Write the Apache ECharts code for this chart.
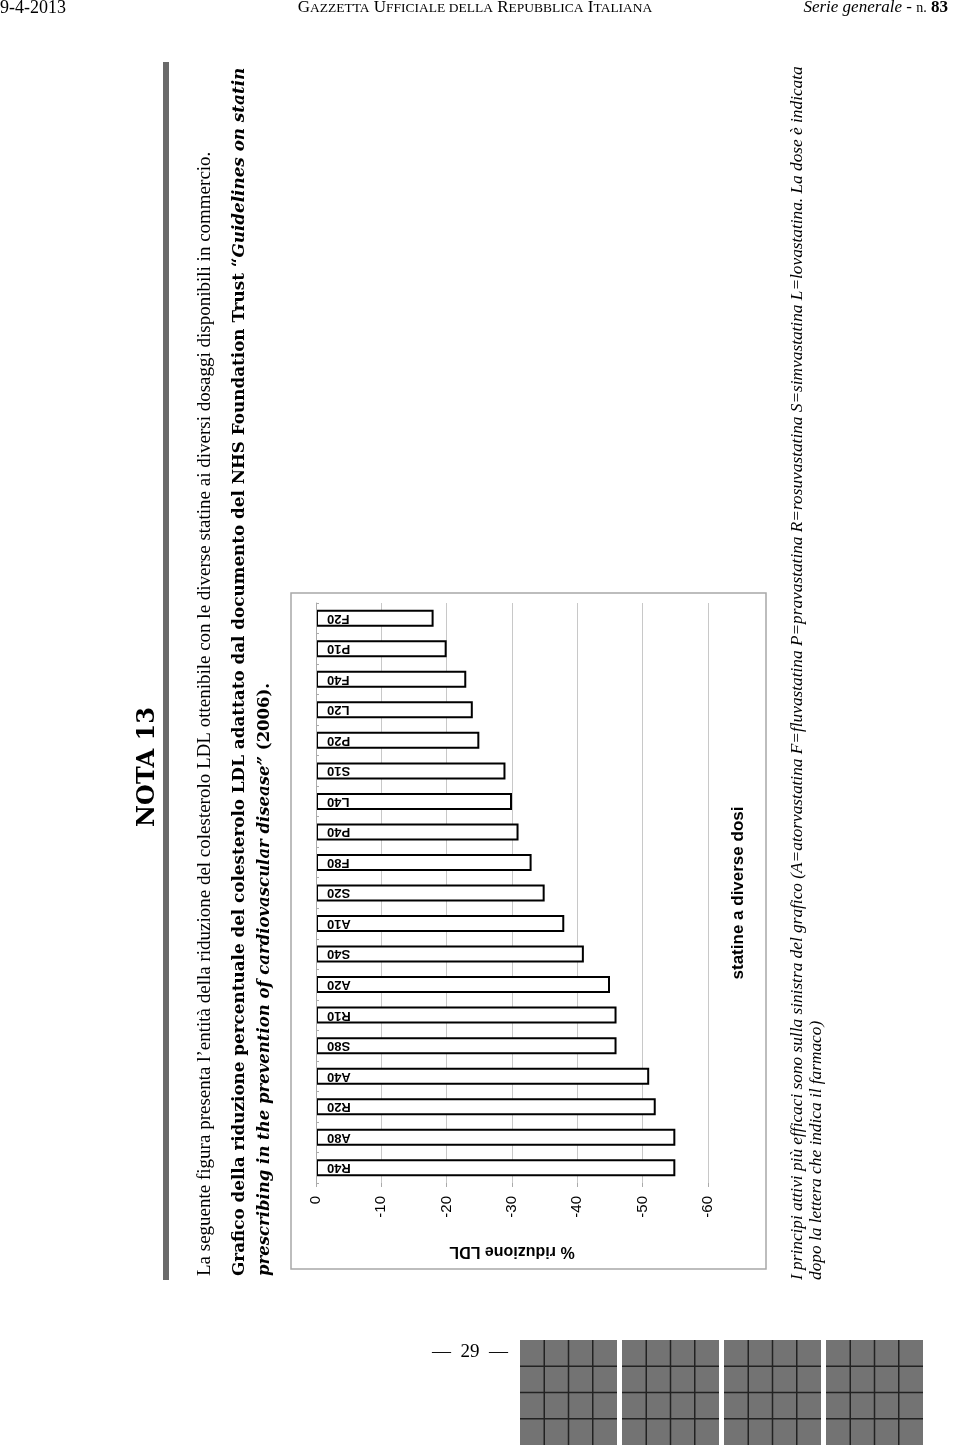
<!DOCTYPE html>
<html>
<head>
<meta charset="utf-8">
<script src="https://cdn.jsdelivr.net/npm/echarts@6/dist/echarts.min.js"></script>
<style>
html,body{margin:0;padding:0;background:#fff;}
#chart{width:960px;height:1445px;}
</style>
</head>
<body>
<div id="chart"></div>
<script>
// Categories (statin + dose), from bottom to top of the plotted axis
const categories = ['R40','A80','R20','A40','S80','R10','A20','S40','A10','S20','F80','P40','L40','S10','P20','L20','F40','P10','F20'];
// % LDL reduction
const ldlReduction = [-55,-55,-52,-51,-46,-46,-45,-41,-38,-35,-33,-31,-30,-29,-25,-24,-23,-20,-18];
// Value axis ticks
const valueMin = -60;
const valueMax = 0;
const valueStep = 10;

const valueAxisName = '% riduzione LDL';
const categoryAxisName = 'statine a diverse dosi';

const chart = echarts.init(document.getElementById('chart'), null, {renderer: 'canvas'});

const SANS = 'Liberation Sans, Arial, sans-serif';
const SERIF = 'Liberation Serif, Times New Roman, serif';
const WSERIF = 'DejaVu Serif, serif';
const R90 = Math.PI / 2;

const noise = [];
[520, 622, 724, 826].forEach(function (x0) {
  const w = 97, y0 = 1340, h = 105;
  noise.push({type: 'rect', shape: {x: x0, y: y0, width: w, height: h}, style: {fill: '#737373'}});
  for (let i = 1; i < 4; i++) {
    noise.push({type: 'line', shape: {x1: x0 + w * i / 4, y1: y0, x2: x0 + w * i / 4, y2: y0 + h}, style: {stroke: '#222', lineWidth: 1.5}});
    noise.push({type: 'line', shape: {x1: x0, y1: y0 + h * i / 4, x2: x0 + w, y2: y0 + h * i / 4}, style: {stroke: '#222', lineWidth: 1.5}});
  }
});

const option = {
  backgroundColor: '#fff',
  animation: false,
  grid: {left: 316, right: 252, top: 603, bottom: 262, containLabel: false},
  xAxis: {
    type: 'value',
    min: valueMin, max: valueMax, interval: valueStep,
    inverse: true,
    name: valueAxisName,
    nameLocation: 'middle',
    nameGap: 60,
    nameRotate: 180,
    nameTextStyle: {fontFamily: SANS, fontWeight: 'bold', fontSize: 16, color: '#000'},
    axisLine: {show: false},
    axisTick: {show: true, length: 4, lineStyle: {color: '#aaa'}},
    axisLabel: {rotate: 90, fontFamily: SANS, fontSize: 15, color: '#000', margin: 13},
    splitLine: {show: true, lineStyle: {color: '#c8c8c8', width: 1}}
  },
  yAxis: {
    type: 'category',
    data: categories,
    z: 10,
    axisLine: {show: true, lineStyle: {color: '#aaa', width: 1}},
    axisTick: {show: true, inside: true, length: 3, lineStyle: {color: '#aaa'}},
    axisLabel: {inside: true, rotate: 180, margin: 11, fontFamily: SANS, fontWeight: 'bold', fontSize: 13, color: '#000'}
  },
  series: [{
    type: 'bar',
    data: ldlReduction,
    barWidth: 17,
    itemStyle: {color: '#fff', borderColor: '#000', borderWidth: 2}
  }],
  graphic: [
    // chart frame
    {type: 'rect', shape: {x: 291, y: 593, width: 475, height: 676}, style: {fill: null, stroke: '#a8a8a8', lineWidth: 1.5}, z: -1},
    {type: 'text', x: 738, y: 893, rotation: R90, style: {text: categoryAxisName, fontFamily: SANS, fontWeight: 'bold', fontSize: 17, fill: '#000', align: 'center', verticalAlign: 'middle'}},
    // vertical gray rule
    {type: 'rect', shape: {x: 163, y: 62, width: 6, height: 1218}, style: {fill: '#6a6a6a'}},
    // header
    {type: 'text', x: 0, y: 8, style: {text: '9-4-2013', fontFamily: SERIF, fontSize: 18, fill: '#000', align: 'left', verticalAlign: 'middle'}},
    {type: 'text', x: 475, y: 8, style: {
      text: 'G{s|AZZETTA} U{s|FFICIALE DELLA} R{s|EPUBBLICA} I{s|TALIANA}',
      fontFamily: SERIF, fontSize: 17, fill: '#000', align: 'center', verticalAlign: 'middle',
      rich: {s: {fontFamily: SERIF, fontSize: 13.5, fill: '#000'}}
    }},
    {type: 'text', x: 948, y: 8, style: {
      text: '{i|Serie generale} - {n|n.} {b|83}',
      fontFamily: SERIF, fontSize: 17, fill: '#000', align: 'right', verticalAlign: 'middle',
      rich: {i: {fontFamily: SERIF, fontStyle: 'italic', fontSize: 17}, n: {fontFamily: SERIF, fontSize: 14}, b: {fontFamily: SERIF, fontWeight: 'bold', fontSize: 17}}
    }},
    // NOTA 13
    {type: 'text', x: 148, y: 767, rotation: R90, style: {text: 'NOTA 13', fontFamily: WSERIF, fontWeight: 'bold', fontSize: 24, fill: '#000', align: 'center', verticalAlign: 'middle'}},
    // intro paragraph
    {type: 'text', x: 205, y: 1276, rotation: R90, style: {text: 'La seguente figura presenta l’entità della riduzione del colesterolo LDL ottenibile con le diverse statine ai diversi dosaggi disponibili in commercio.', fontFamily: SERIF, fontSize: 19, fill: '#000', align: 'left', verticalAlign: 'middle'}},
    // caption
    {type: 'text', x: 240, y: 1276, rotation: R90, style: {
      text: '{b|Grafico della riduzione percentuale del colesterolo LDL adattato dal documento del NHS Foundation Trust “}{bi|Guidelines on statin}',
      fill: '#000', align: 'left', verticalAlign: 'middle',
      rich: {b: {fontFamily: WSERIF, fontWeight: 'bold', fontSize: 16.8}, bi: {fontFamily: WSERIF, fontWeight: 'bold', fontStyle: 'italic', fontSize: 16.8}}
    }},
    {type: 'text', x: 265, y: 1276, rotation: R90, style: {
      text: '{bi|prescribing in the prevention of cardiovascular disease”}{b| (2006).}',
      fill: '#000', align: 'left', verticalAlign: 'middle',
      rich: {b: {fontFamily: WSERIF, fontWeight: 'bold', fontSize: 16.5}, bi: {fontFamily: WSERIF, fontWeight: 'bold', fontStyle: 'italic', fontSize: 16.5}}
    }},
    // footnote
    {type: 'text', x: 797, y: 1280, rotation: R90, style: {text: 'I principi attivi più efficaci sono sulla sinistra del grafico (A=atorvastatina F=fluvastatina P=pravastatina R=rosuvastatina S=simvastatina L=lovastatina. La dose è indicata', fontFamily: SERIF, fontStyle: 'italic', fontSize: 17.3, fill: '#000', align: 'left', verticalAlign: 'middle'}},
    {type: 'text', x: 816, y: 1280, rotation: R90, style: {text: 'dopo la lettera che indica il farmaco)', fontFamily: SERIF, fontStyle: 'italic', fontSize: 17.3, fill: '#000', align: 'left', verticalAlign: 'middle'}},
    // page number
    {type: 'text', x: 470, y: 1352, style: {text: '—  29  —', fontFamily: SERIF, fontSize: 19, fill: '#000', align: 'center', verticalAlign: 'middle'}}
  ].concat(noise)
};
chart.setOption(option);
</script>
</body>
</html>
